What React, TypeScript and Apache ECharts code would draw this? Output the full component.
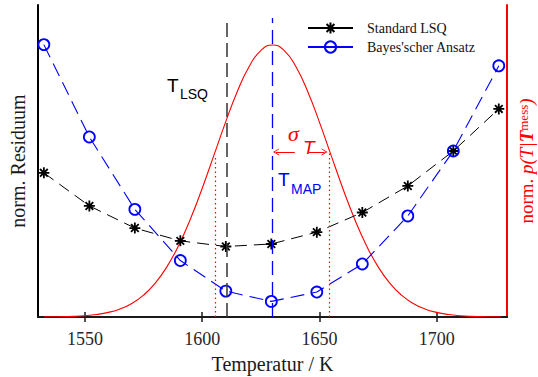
import React, { useEffect, useRef } from 'react';
import * as echarts from 'echarts';

// Temperatures of the evaluated candidates (K)
const temps = [1532.5, 1551.9, 1571.3, 1590.7, 1610.1, 1629.5, 1648.9, 1668.3, 1687.7, 1707.1, 1726.5];
// Normalised residuum, standard least squares
const lsqResidual = [0.462, 0.356, 0.285, 0.244, 0.226, 0.234, 0.272, 0.335, 0.42, 0.532, 0.667];
// Normalised residuum, Bayesian approach
const bayesResidual = [0.873, 0.577, 0.345, 0.181, 0.083, 0.05, 0.08, 0.17, 0.324, 0.532, 0.805];
// Normalised posterior p(T|T^mess)
const gaussT = [1532.5, 1535, 1540, 1545, 1550, 1555, 1560, 1565, 1570, 1575, 1580, 1585, 1590, 1595, 1600, 1605, 1610, 1615, 1620, 1625, 1630, 1635, 1640, 1645, 1650, 1655, 1660, 1665, 1670, 1675, 1680, 1685, 1690, 1695, 1700, 1705, 1710, 1715, 1720, 1725, 1727.5];
const gaussP = [0.0004, 0.0005, 0.0012, 0.0024, 0.0048, 0.0092, 0.0169, 0.0296, 0.0498, 0.0805, 0.1246, 0.1851, 0.2637, 0.3604, 0.4725, 0.5942, 0.7166, 0.8291, 0.9201, 0.9794, 1, 0.9794, 0.9201, 0.8291, 0.7166, 0.5942, 0.4725, 0.3604, 0.2637, 0.1851, 0.1246, 0.0805, 0.0498, 0.0296, 0.0169, 0.0092, 0.0048, 0.0024, 0.0012, 0.0005, 0.0004];
const xTicks = [1550, 1600, 1650, 1700];
const tLSQ = 1610.3;
const tMAP = 1629.7;
const sigmaLow = 1605.5;
const sigmaHigh = 1654;
const sigmaLevel = 0.607;

const SERIF = 'Liberation Serif';
const SANS = 'Liberation Sans';
const RED = '#ff0000';
const BLUE = '#0000ff';

const STAR = 'path://M5 0 L5 10 M0 5 L10 5 M1.5 1.5 L8.5 8.5 M1.5 8.5 L8.5 1.5';
const CHEVRON = 'path://M0 10 L5 0 L10 10 L8.6 10 L5 2.8 L1.4 10 Z';

export default function App() {
  const ref = useRef<HTMLDivElement>(null);
  useEffect(() => {
    if (!ref.current) return;
    const chart = echarts.init(ref.current, null, { renderer: 'svg' });
    const xAxisCommon = {
      type: 'value',
      min: 1530,
      max: 1730,
      splitNumber: 4,
      splitLine: { show: false },
    };
    chart.setOption({
      animation: false,
      backgroundColor: '#ffffff',
      textStyle: { fontFamily: SERIF },
      grid: { left: 38, right: 31, top: 5, bottom: 60, containLabel: false, outerBoundsMode: 'none' },
      legend: {
        data: ['Standard LSQ', "Bayes'scher Ansatz"],
        orient: 'vertical',
        left: 307,
        top: 21,
        itemWidth: 45,
        itemHeight: 14,
        itemGap: 5,
        padding: 0,
        lineStyle: { type: 'solid' },
        textStyle: { fontFamily: SERIF, fontSize: 14, color: '#111', padding: [0, 0, 0, 9] },
      },
      xAxis: [
        {
          ...xAxisCommon,
          position: 'bottom',
          axisLine: { show: true, lineStyle: { color: '#1a1a1a', width: 2 } },
          axisTick: { show: true, inside: true, length: 5, customValues: xTicks, lineStyle: { color: '#1a1a1a', width: 1.5 } },
          axisLabel: {
            show: true,
            customValues: xTicks,
            formatter: (v: number) => String(v),
            margin: 13,
            fontFamily: SERIF,
            fontSize: 18,
            color: '#262626',
          },
          name: 'Temperatur / K',
          nameLocation: 'middle',
          nameGap: 37,
          nameMoveOverlap: false,
          nameTextStyle: { fontFamily: SERIF, fontSize: 20, color: '#1a1a1a' },
        },
        {
          ...xAxisCommon,
          position: 'top',
          axisLine: { show: true, lineStyle: { color: '#1a1a1a', width: 2 } },
          axisTick: { show: true, inside: true, length: 5, customValues: xTicks, lineStyle: { color: '#1a1a1a', width: 1.5 } },
          axisLabel: { show: false },
        },
      ],
      yAxis: [
        {
          type: 'value',
          position: 'left',
          min: 0,
          max: 1,
          splitLine: { show: false },
          axisTick: { show: false },
          axisLabel: { show: false },
          axisLine: { show: true, lineStyle: { color: '#000', width: 2 } },
          name: 'norm. Residuum',
          nameLocation: 'middle',
          nameGap: 10,
          nameMoveOverlap: false,
          nameTextStyle: { fontFamily: SERIF, fontSize: 20, color: '#1a1a1a' },
        },
        {
          type: 'value',
          position: 'right',
          min: 0,
          max: 1.147,
          splitLine: { show: false },
          axisTick: { show: false },
          axisLabel: { show: false },
          axisLine: { show: true, lineStyle: { color: RED, width: 2 } },
          name: '{n|norm. }{i|p(T|}{b|T}{s|mess}{i|)}',
          nameLocation: 'middle',
          nameGap: 10,
          nameMoveOverlap: false,
          nameTextStyle: {
            color: RED,
            fontFamily: SERIF,
            fontSize: 19,
            rich: {
              n: { fontFamily: SERIF, fontSize: 19, lineHeight: 19, color: RED },
              i: { fontFamily: SERIF, fontSize: 19, lineHeight: 19, color: RED, fontStyle: 'italic' },
              b: { fontFamily: SERIF, fontSize: 19, lineHeight: 19, color: RED, fontStyle: 'italic', fontWeight: 'bold' },
              s: { fontFamily: SERIF, fontSize: 13, lineHeight: 9, color: RED, verticalAlign: 'top' },
            },
          },
        },
      ],
      series: [
        {
          name: 'Posterior',
          type: 'line',
          xAxisIndex: 0,
          yAxisIndex: 1,
          data: gaussT.map((t, i) => [t, gaussP[i]]),
          showSymbol: false,
          symbol: 'none',
          smooth: true,
          silent: true,
          lineStyle: { color: RED, width: 1.1 },
          itemStyle: { color: RED },
          z: 2,
          markLine: {
            silent: true,
            symbol: 'none',
            animation: false,
            label: { show: false },
            lineStyle: { color: RED, width: 1.2, type: [1.5, 3] },
            data: [
              [{ coord: [sigmaLow, 0] }, { coord: [sigmaLow, 0.595] }],
              [{ coord: [sigmaHigh, 0] }, { coord: [sigmaHigh, sigmaLevel] }],
              [
                { coord: [tMAP + 1.8, sigmaLevel], symbol: CHEVRON, symbolSize: [7, 6], lineStyle: { color: RED, width: 1, type: 'solid' } },
                { coord: [1639.5, sigmaLevel], symbol: 'none' },
              ],
              [
                { coord: [1645.6, sigmaLevel], symbol: 'none', lineStyle: { color: RED, width: 1, type: 'solid' } },
                { coord: [sigmaHigh - 1.8, sigmaLevel], symbol: CHEVRON, symbolSize: [7, 6] },
              ],
            ],
          },
        },
        {
          name: 'Standard LSQ',
          type: 'line',
          xAxisIndex: 0,
          yAxisIndex: 0,
          data: temps.map((t, i) => [t, lsqResidual[i]]),
          symbol: STAR,
          symbolSize: 11,
          itemStyle: { color: '#000', borderColor: '#000', borderWidth: 1.8 },
          lineStyle: { color: '#000', width: 1, type: [12, 7] },
          z: 3,
          markLine: {
            silent: true,
            symbol: 'none',
            animation: false,
            label: { show: false },
            lineStyle: { color: '#333', width: 1.5, type: [14, 6] },
            data: [[{ coord: [tLSQ, 0] }, { coord: [tLSQ, 0.958] }]],
          },
        },
        {
          name: "Bayes'scher Ansatz",
          type: 'line',
          xAxisIndex: 0,
          yAxisIndex: 0,
          data: temps.map((t, i) => [t, bayesResidual[i]]),
          symbol: 'circle',
          symbolSize: 11,
          itemStyle: { color: 'rgba(0,0,0,0)', borderColor: BLUE, borderWidth: 1.8 },
          lineStyle: { color: BLUE, width: 1.1, type: [14, 7] },
          z: 4,
          markLine: {
            silent: true,
            symbol: 'none',
            animation: false,
            label: { show: false },
            lineStyle: { color: BLUE, width: 1.3, type: [14, 7] },
            data: [[{ coord: [tMAP, 0] }, { coord: [tMAP, 0.958] }]],
          },
        },
      ],
      graphic: [
        { type: 'text', x: 167, y: 85, style: { text: 'T', fontFamily: SANS, fontSize: 19, fill: '#000', align: 'left', verticalAlign: 'middle' } },
        { type: 'text', x: 180, y: 94, style: { text: 'LSQ', fontFamily: SANS, fontSize: 14, fill: '#000', align: 'left', verticalAlign: 'middle' } },
        { type: 'text', x: 278, y: 179, style: { text: 'T', fontFamily: SANS, fontSize: 19, fill: BLUE, align: 'left', verticalAlign: 'middle' } },
        { type: 'text', x: 291, y: 189, style: { text: 'MAP', fontFamily: SANS, fontSize: 14, fill: BLUE, align: 'left', verticalAlign: 'middle' } },
        { type: 'text', x: 288, y: 133, style: { text: 'σ', fontFamily: SERIF, fontStyle: 'italic', fontSize: 22, fill: RED, align: 'left', verticalAlign: 'middle' } },
        { type: 'text', x: 303, y: 147, style: { text: 'T', fontFamily: SANS, fontStyle: 'italic', fontSize: 19, fill: RED, align: 'left', verticalAlign: 'middle' } },
      ],
    });
    return () => chart.dispose();
  }, []);
  return <div ref={ref} style={{ position: 'absolute', left: 0, top: 0, width: 538, height: 377 }} />;
}
